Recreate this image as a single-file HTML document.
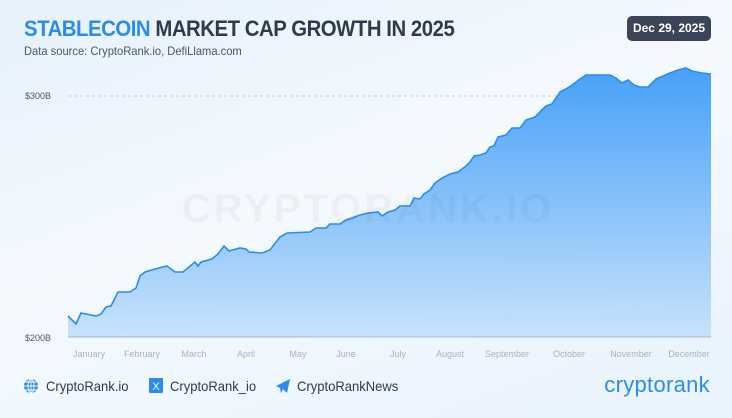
<!DOCTYPE html>
<html><head><meta charset="utf-8"><style>
body{margin:0;width:732px;height:418px;overflow:hidden;font-family:"Liberation Sans",sans-serif;background:linear-gradient(160deg,#e6f1fc 0%,#f4f9fe 45%,#e8f3fd 100%);position:relative}
.t{position:absolute;left:24px;top:16px;font-size:22px;font-weight:bold;color:#2f3a4b;letter-spacing:-0.5px;transform:scaleX(0.925);transform-origin:left top;white-space:nowrap}
.t span{color:#2a8cf0}
.s{position:absolute;left:24px;top:44px;font-size:12px;color:#4a5566;transform:scaleX(0.93);transform-origin:left top;white-space:nowrap}
.d{position:absolute;left:627px;top:16px;width:84px;height:25px;background:#3c4557;border-radius:5px;color:#fff;font-size:12px;font-weight:bold;text-align:center;line-height:25px}
.f{position:absolute;top:378px;font-size:14px;color:#2f3a4b;transform:scaleX(0.93);transform-origin:left top;white-space:nowrap}
</style></head><body>
<div class="t"><span>STABLECOIN</span> MARKET CAP GROWTH IN 2025</div>
<div class="s">Data source: CryptoRank.io, DefiLlama.com</div>
<div class="d">Dec 29, 2025</div>
<svg width="732" height="418" style="position:absolute;left:0;top:0">
<defs><linearGradient id="g" x1="0" y1="0" x2="0" y2="1"><stop offset="0" stop-color="#3d9cf8"/><stop offset="1" stop-color="#c6e1fb"/></linearGradient></defs>
<line x1="68" y1="96" x2="711" y2="96" stroke="#c5ccd6" stroke-dasharray="3,3"/>
<text x="25" y="99" font-size="9" fill="#555">$300B</text>
<text x="25" y="341" font-size="9" fill="#555">$200B</text>
<path d="M68,316 L76,324 L81,313 L96,316 L101,314 L106,307 L111,306 L118,292 L130,292 L136,288 L140,276 L145,272 L155,269 L167,266 L175,272 L183,272 L195,262 L198,266 L201,262 L212,259 L218,254 L224,246 L229,251 L240,248 L246,249 L249,252 L262,253 L270,250 L280,237 L287,233 L310,232 L316,228 L326,228 L330,224 L340,224 L346,220 L352,218 L360,215 L368,213 L378,212 L382,216 L388,212 L395,210 L400,206 L410,206 L414,198 L420,199 L424,194 L430,190 L435,183 L442,178 L450,174 L458,172 L466,166 L470,162 L474,156 L480,155 L486,153 L490,147 L494,146 L498,137 L506,135 L512,128 L520,128 L526,120 L535,117 L540,112 L546,106 L552,104 L560,92 L566,89 L572,85 L580,79 L586,75 L594,75 L610,75 L616,78 L622,83 L628,80 L634,85 L640,87 L648,87 L656,79 L670,73 L678,70 L686,68 L692,71 L702,73 L711,74 L711,337 L68,337 Z" fill="url(#g)" opacity="0.95"/>
<path d="M68,316 L76,324 L81,313 L96,316 L101,314 L106,307 L111,306 L118,292 L130,292 L136,288 L140,276 L145,272 L155,269 L167,266 L175,272 L183,272 L195,262 L198,266 L201,262 L212,259 L218,254 L224,246 L229,251 L240,248 L246,249 L249,252 L262,253 L270,250 L280,237 L287,233 L310,232 L316,228 L326,228 L330,224 L340,224 L346,220 L352,218 L360,215 L368,213 L378,212 L382,216 L388,212 L395,210 L400,206 L410,206 L414,198 L420,199 L424,194 L430,190 L435,183 L442,178 L450,174 L458,172 L466,166 L470,162 L474,156 L480,155 L486,153 L490,147 L494,146 L498,137 L506,135 L512,128 L520,128 L526,120 L535,117 L540,112 L546,106 L552,104 L560,92 L566,89 L572,85 L580,79 L586,75 L594,75 L610,75 L616,78 L622,83 L628,80 L634,85 L640,87 L648,87 L656,79 L670,73 L678,70 L686,68 L692,71 L702,73 L711,74" fill="none" stroke="#2a8cf0" stroke-width="1.6"/>
<text x="368" y="222" font-size="40" font-weight="bold" fill="#000" fill-opacity="0.035" text-anchor="middle" letter-spacing="3">CRYPTORANK.IO</text>
<line x1="68" y1="337" x2="711" y2="337" stroke="#9fb8d0" stroke-width="1"/>
<g font-size="9" fill="#a8b2bf" text-anchor="middle">
<text x="89" y="357">January</text><text x="142" y="357">February</text><text x="194" y="357">March</text><text x="246" y="357">April</text><text x="298" y="357">May</text><text x="346" y="357">June</text><text x="398" y="357">July</text><text x="450" y="357">August</text><text x="507" y="357">September</text><text x="569" y="357">October</text><text x="631" y="357">November</text><text x="689" y="357">December</text>
</g>
<circle cx="31" cy="386" r="7" fill="#2a8cf0"/>
<path d="M24,386 H38 M31,379 V393 M25,382 H37 M25,390 H37" stroke="#fff" stroke-width="0.9" fill="none"/>
<ellipse cx="31" cy="386" rx="3" ry="7" stroke="#fff" stroke-width="0.9" fill="none"/>
<rect x="149" y="378" width="14" height="15" rx="1" fill="#2a8cf0"/>
<text x="156" y="390" font-size="11" fill="#fff" text-anchor="middle">X</text>
<path d="M276,386 L290,379 L287,393 L283,389 L281,393 L280,388 Z" fill="#2a8cf0"/>
<text x="710" y="392" font-size="22" fill="#2a8cf0" text-anchor="end" letter-spacing="0.3">cryptorank</text>
</svg>
<div class="f" style="left:46px">CryptoRank.io</div>
<div class="f" style="left:170px">CryptoRank_io</div>
<div class="f" style="left:297px">CryptoRankNews</div>
</body></html>
